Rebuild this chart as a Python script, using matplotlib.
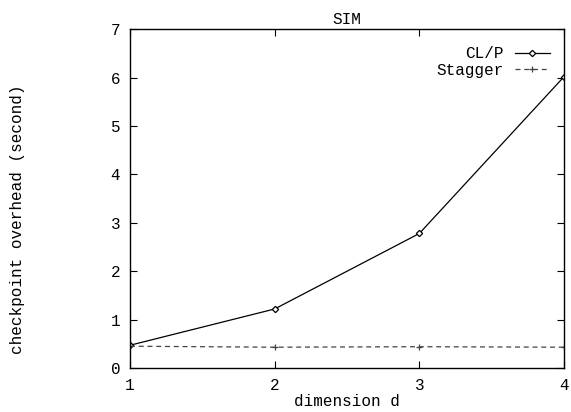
import matplotlib
matplotlib.use("Agg")
import matplotlib.pyplot as plt

dimensoes = [1, 2, 3, 4]
overheadCLP = [0.47, 1.22, 2.78, 6.02]
overheadStagger = [0.45, 0.43, 0.44, 0.43]

plt.rcParams['font.family'] = ['Liberation Mono', 'DejaVu Sans Mono']
plt.rcParams['font.size'] = 11.5

fig = plt.figure(figsize=(5.71, 4.12), dpi=100)
ax = fig.add_axes([130 / 571, 1 - 368 / 412, 434 / 571, (368 - 29.3) / 412])

ax.plot(dimensoes, overheadCLP, color="black", linewidth=0.9, marker="D",
        markersize=3.2, markerfacecolor="white", markeredgewidth=0.9, label="CL/P")
ax.plot(dimensoes, overheadStagger, color="#444444", linewidth=0.9, linestyle=(0, (4, 3)),
        marker="+", markersize=5, markeredgewidth=0.9, label="Stagger")

ax.set_xlim(1, 4)
ax.set_ylim(0, 7)
ax.set_xticks(dimensoes)
ax.set_yticks(range(8))
ax.tick_params(direction="in", top=True, right=True, length=5, width=0.8, pad=7)
for lado in ax.spines.values():
    lado.set_linewidth(1.0)

ax.set_xlabel("dimension d", labelpad=1)
ax.set_ylabel("checkpoint overhead (second)")
ax.yaxis.set_label_coords(-0.242, 0.44)
ax.set_title("SIM", fontsize=11.5, pad=4)

ax.legend(loc="upper right", markerfirst=False, frameon=False, handlelength=2.2,
          handletextpad=0.7, labelspacing=0.1, borderaxespad=0.4, bbox_to_anchor=(0.997, 0.988))

fig.savefig("out.png", dpi=100)
